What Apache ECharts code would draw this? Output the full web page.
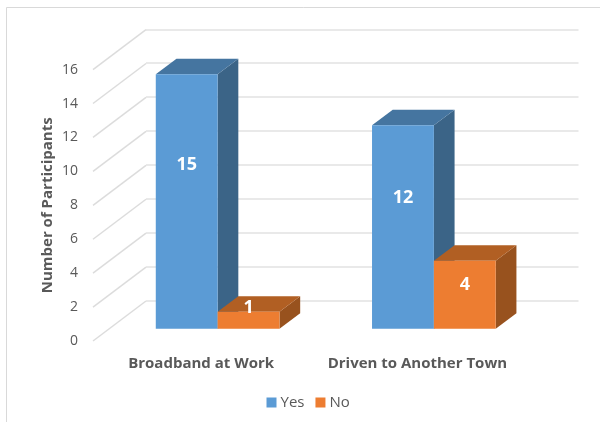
<!DOCTYPE html>
<html>
<head>
<meta charset="utf-8">
<style>
  html, body { margin: 0; padding: 0; background: #fff; }
  #main { width: 600px; height: 422px; }
</style>
<script src="https://cdn.jsdelivr.net/npm/echarts@6/dist/echarts.min.js"></script>
</head>
<body>
<div id="main"></div>
<script>
// values
const categories = ['Broadband at Work', 'Driven to Another Town'];
const yesValues = [15, 12];
const noValues = [1, 4];
const yTicks = [0, 2, 4, 6, 8, 10, 12, 14, 16];

const FONT = 'Open Sans';
const GREY = '#595959';

// the fake 3d: three copies of the same scale, shifted back in depth
const FRONT = { left: 93, bottom: 81 };    // tick labels, floor edge
const BARS = { left: 109.5, bottom: 93.3 };
const BACK = { left: 146, bottom: 121.3 }; // back wall gridlines
const PLOT_W = 432.5, PLOT_H = 271.4;
const WALL_DX = 53, WALL_DY = -40;
const BAR_DX = 20.7, BAR_DY = -15.5;
const BAR_RATIO = 0.286;

function makeGrid(g) {
    return { left: g.left, bottom: g.bottom, width: PLOT_W, height: PLOT_H };
}

function makeBars(color, topColor, sideColor, sign) {
    return function (params, api) {
        let i = api.value(0), v = api.value(1);
        let base = api.coord([i, 0]);
        let top = api.coord([i, v]);
        let w = api.size([1, 0])[0] * BAR_RATIO;
        let x0 = sign < 0 ? base[0] - w : base[0];
        let x1 = x0 + w;
        // label sits low on tall bars, excel does that in 3d
        let labelPos = api.coord([i, Math.max(v * 0.643, 1.25)]);
        return {
            type: 'group',
            children: [
                { type: 'polygon', shape: { points: [[x1, top[1]], [x1 + BAR_DX, top[1] + BAR_DY], [x1 + BAR_DX, base[1] + BAR_DY], [x1, base[1]]] }, style: { fill: sideColor } },
                { type: 'polygon', shape: { points: [[x0, top[1]], [x0 + BAR_DX, top[1] + BAR_DY], [x1 + BAR_DX, top[1] + BAR_DY], [x1, top[1]]] }, style: { fill: topColor } },
                { type: 'rect', shape: { x: x0, y: top[1], width: w, height: base[1] - top[1] }, style: { fill: color } },
                {
                    type: 'text', z2: 10,
                    style: {
                        x: (x0 + x1) / 2, y: labelPos[1], text: String(v),
                        fill: '#fff', font: 'bold 18px ' + FONT,
                        align: 'center', verticalAlign: 'middle'
                    }
                }
            ]
        };
    };
}

function renderDiagonal(params, api) {
    let x = params.coordSys.x;
    let y = api.coord([0, api.value(0)])[1];
    return {
        type: 'line',
        shape: { x1: x, y1: y, x2: x + WALL_DX, y2: y + WALL_DY },
        style: { stroke: '#dcdcdc', lineWidth: 1.5 }
    };
}

let myChart = echarts.init(document.getElementById('main'));

let option = {
    backgroundColor: '#fff',
    animation: false,
    textStyle: { fontFamily: FONT },
    grid: [makeGrid(FRONT), makeGrid(BARS), makeGrid(BACK)],
    xAxis: [
        {
            gridIndex: 0, type: 'category', data: categories,
            axisLine: { show: false }, axisTick: { show: false },
            axisLabel: { interval: 0, hideOverlap: false, margin: 15, color: GREY, fontFamily: FONT, fontWeight: 'bold', fontSize: 15 }
        },
        { gridIndex: 1, type: 'category', data: categories, show: false },
        { gridIndex: 2, type: 'category', data: categories, show: false }
    ],
    yAxis: [
        {
            gridIndex: 0, type: 'value', min: 0, max: 16, interval: 2,
            name: 'Number of Participants', nameLocation: 'middle', nameGap: 38, nameMoveOverlap: false,
            nameTextStyle: { color: GREY, fontFamily: FONT, fontWeight: 'bold', fontSize: 15 },
            axisLine: { show: false }, axisTick: { show: false }, splitLine: { show: false },
            axisLabel: { margin: 15, color: GREY, fontFamily: FONT, fontSize: 14 }
        },
        {
            gridIndex: 1, type: 'value', min: 0, max: 16, interval: 2,
            axisLine: { show: false }, axisTick: { show: false }, axisLabel: { show: false }, splitLine: { show: false }
        },
        {
            gridIndex: 2, type: 'value', min: 0, max: 16, interval: 2,
            axisLine: { show: false }, axisTick: { show: false }, axisLabel: { show: false },
            splitLine: { show: true, lineStyle: { color: '#e2e2e2', width: 1.5 } }
        }
    ],
    legend: {
        data: [{ name: 'Yes', icon: 'rect' }, { name: 'No', icon: 'rect' }],
        left: 261.5, top: 390, itemWidth: 10, itemHeight: 10, itemGap: 11,
        textStyle: { color: GREY, fontFamily: FONT, fontSize: 15, padding: [0, 0, 0, -1] }
    },
    series: [
        {
            type: 'custom', name: 'wall', xAxisIndex: 0, yAxisIndex: 0, silent: true,
            data: yTicks.map(function (t) { return [t]; }),
            encode: { y: 0 },
            renderItem: renderDiagonal
        },
        {
            type: 'custom', name: 'Yes', xAxisIndex: 1, yAxisIndex: 1,
            itemStyle: { color: '#5B9BD5' },
            data: yesValues.map(function (v, i) { return [i, v]; }),
            encode: { x: 0, y: 1 },
            renderItem: makeBars('#5B9BD5', '#4575A0', '#3B6487', -1)
        },
        {
            type: 'custom', name: 'No', xAxisIndex: 1, yAxisIndex: 1,
            itemStyle: { color: '#ED7D31' },
            data: noValues.map(function (v, i) { return [i, v]; }),
            encode: { x: 0, y: 1 },
            renderItem: makeBars('#ED7D31', '#B15F23', '#98521E', 1)
        }
    ],
    // chart area border, only top and left are inside the crop
    graphic: [
        { type: 'line', silent: true, shape: { x1: 6.5, y1: 7.5, x2: 600, y2: 7.5 }, style: { stroke: '#d9d9d9', lineWidth: 1 } },
        { type: 'line', silent: true, shape: { x1: 6.5, y1: 7.5, x2: 6.5, y2: 422 }, style: { stroke: '#d9d9d9', lineWidth: 1 } }
    ]
};
myChart.setOption(option);
</script>
</body>
</html>
